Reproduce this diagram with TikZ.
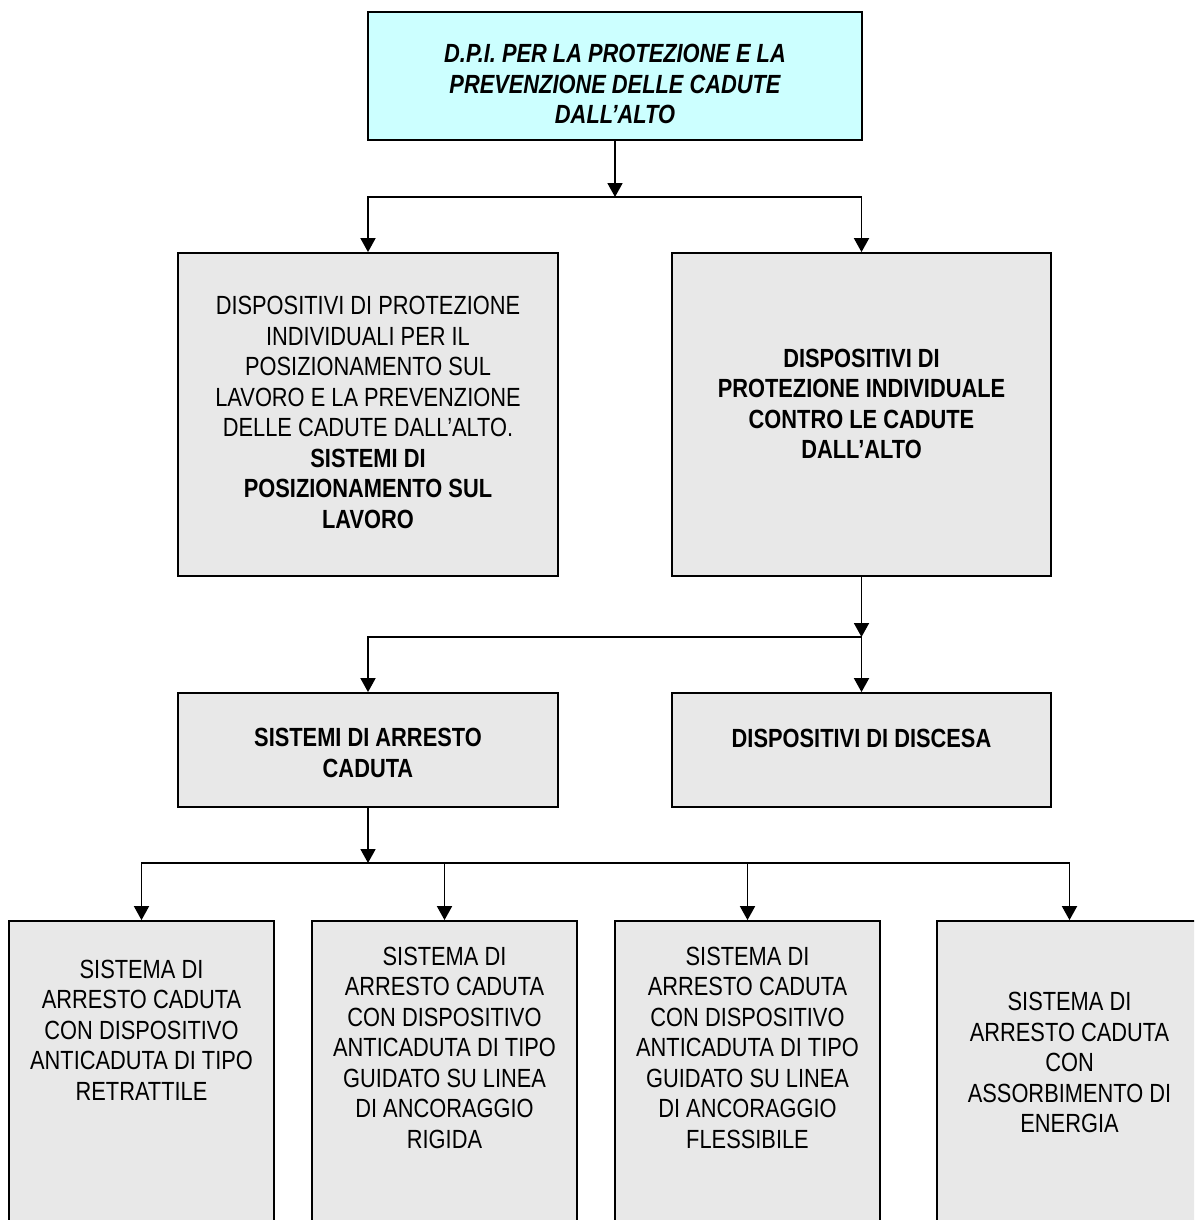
\documentclass[tikz,border=0pt]{standalone}
\usepackage{fontspec}
\setmainfont[FakeStretch=0.83]{Liberation Sans}
\usetikzlibrary{arrows.meta}
\definecolor{cyanfill}{HTML}{CCFFFF}
\definecolor{grayfill}{HTML}{E8E8E8}
\begin{document}
\begin{tikzpicture}[x=1pt,y=-1pt,
  box/.style={draw=black, line width=1.8pt, fill=grayfill, inner sep=0pt},
  txt/.style={align=center, font=\fontsize{26.3}{30.5}\selectfont, inner sep=0pt},
  arr/.style={line width=1.8pt, -{Triangle[width=15pt,length=14pt]}}]
\useasboundingbox (0,0) rectangle (1194,1220);
\fill[white] (0,0) rectangle (1194,1220);
\clip (0,0) rectangle (1194,1220);
% boxes
\node[box, fill=cyanfill, minimum width=494pt, minimum height=128pt] (top) at (615,76) {};
\node[box, minimum width=380pt, minimum height=323pt] (l2) at (368,414.5) {};
\node[box, minimum width=379pt, minimum height=323pt] (r2) at (861.5,414.5) {};
\node[box, minimum width=380pt, minimum height=114pt] (l3) at (368,750) {};
\node[box, minimum width=379pt, minimum height=114pt] (r3) at (861.5,750) {};
\node[box, minimum width=265pt, minimum height=340pt] (b1) at (141.5,1091) {};
\node[box, minimum width=265pt, minimum height=340pt] (b2) at (444.5,1091) {};
\node[box, minimum width=265pt, minimum height=340pt] (b3) at (747.5,1091) {};
\node[box, minimum width=265pt, minimum height=340pt] (b4) at (1069.5,1091) {};
% texts
\node[txt, font=\fontsize{26.3}{30.5}\selectfont\bfseries\itshape] (ttop) at (615,84)
  {D.P.I. PER LA PROTEZIONE E LA\\PREVENZIONE DELLE CADUTE\\DALL’ALTO};
\node[txt] (tl2) at (368,412.5)
  {DISPOSITIVI DI PROTEZIONE\\INDIVIDUALI PER IL\\POSIZIONAMENTO SUL\\LAVORO E LA PREVENZIONE\\DELLE CADUTE DALL’ALTO.\\\textbf{SISTEMI DI}\\\textbf{POSIZIONAMENTO SUL}\\\textbf{LAVORO}};
\node[txt, font=\fontsize{26.3}{30.5}\selectfont\bfseries] (tr2) at (861.5,404)
  {DISPOSITIVI DI\\PROTEZIONE INDIVIDUALE\\CONTRO LE CADUTE\\DALL’ALTO};
\node[txt, font=\fontsize{26.3}{30.5}\selectfont\bfseries] (tl3) at (368,753)
  {SISTEMI DI ARRESTO\\CADUTA};
\node[txt, font=\fontsize{26.3}{30.5}\selectfont\bfseries] (tr3) at (861.5,738)
  {DISPOSITIVI DI DISCESA};
\node[txt] (tb1) at (141.5,1030)
  {SISTEMA DI\\ARRESTO CADUTA\\CON DISPOSITIVO\\ANTICADUTA DI TIPO\\RETRATTILE};
\node[txt] (tb2) at (444.5,1047.5)
  {SISTEMA DI\\ARRESTO CADUTA\\CON DISPOSITIVO\\ANTICADUTA DI TIPO\\GUIDATO SU LINEA\\DI ANCORAGGIO\\RIGIDA};
\node[txt] (tb3) at (747.5,1047.5)
  {SISTEMA DI\\ARRESTO CADUTA\\CON DISPOSITIVO\\ANTICADUTA DI TIPO\\GUIDATO SU LINEA\\DI ANCORAGGIO\\FLESSIBILE};
\node[txt] (tb4) at (1069.5,1062.5)
  {SISTEMA DI\\ARRESTO CADUTA\\CON\\ASSORBIMENTO DI\\ENERGIA};
% junctions
\coordinate (j1) at (615,197);
\coordinate (j2) at (861.5,637);
\coordinate (j3) at (368,863);
% connectors
\draw[arr] (top.south) -- (j1);
\draw[arr] (j1) -| (l2.north);
\draw[arr] (j1) -| (r2.north);
\draw[arr] (r2.south) -- (j2);
\draw[arr] (j2) -| (l3.north);
\draw[arr] (j2) -- (r3.north);
\draw[arr] (l3.south) -- (j3);
\draw[arr] (j3) -| (b1.north);
\draw[arr] (j3) -| (b2.north);
\draw[arr] (j3) -| (b3.north);
\draw[arr] (j3) -| (b4.north);
\end{tikzpicture}
\end{document}
